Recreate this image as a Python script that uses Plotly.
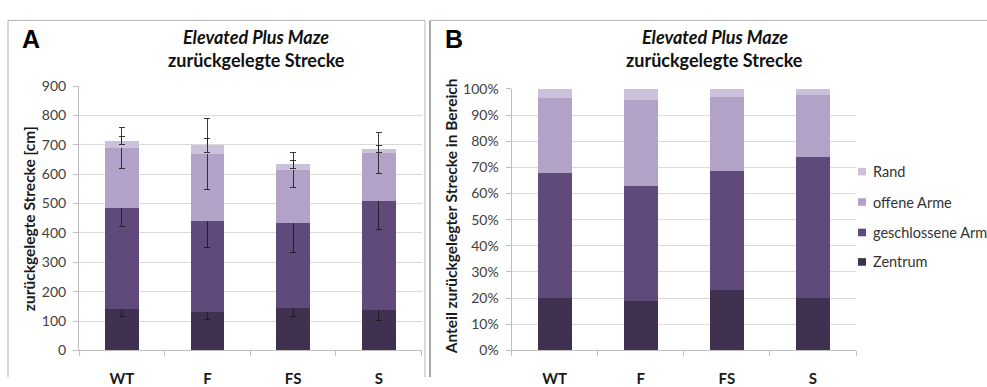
import plotly.graph_objects as go

# Distance travelled per maze region (cm), mean values per group
groups = ["WT", "F", "FS", "S"]
series_names = ["Zentrum", "geschlossene Arme", "offene Arme", "Rand"]
zentrum = [142, 131, 145, 138]
geschlossen = [342, 308, 290, 369]
offen = [206, 229, 179, 164]
rand = [24, 30, 19, 15]

# Standard deviations per region
err_zentrum = [27, 27, 30, 35]
err_geschlossen = [63, 89, 103, 95]
err_offen = [70, 120, 60, 70]
err_rand = [14, 23, 14, 13]

y_ticks_cm = [0, 100, 200, 300, 400, 500, 600, 700, 800, 900]
y_ticks_pct = [0, 10, 20, 30, 40, 50, 60, 70, 80, 90, 100]

colors = ["#403151", "#604A7B", "#B3A2C7", "#CCC1DA"]

W, H = 987, 387
FONT = "Lato, 'Open Sans', sans-serif"


def px(x):
    return x / W


def py(y):
    return 1 - y / H


values = [zentrum, geschlossen, offen, rand]
errors = [err_zentrum, err_geschlossen, err_offen, err_rand]
totals = [sum(v[i] for v in values) for i in range(len(groups))]
shares = [[v[i] / totals[i] * 100 for i in range(len(groups))] for v in values]

fig = go.Figure()

# Panel A: absolute distances with error bars
for name, vals, err, col in zip(series_names, values, errors, colors):
    fig.add_trace(go.Bar(
        x=groups, y=vals, name=name, marker=dict(color=col, line=dict(width=0)),
        error_y=dict(type="data", array=err, visible=True, color="rgba(25,25,25,0.85)",
                     thickness=1, width=3),
        xaxis="x", yaxis="y", showlegend=False,
    ))

# Panel B: share of distance per region
for name, vals, col in zip(series_names, shares, colors):
    fig.add_trace(go.Bar(
        x=groups, y=vals, name=name, marker=dict(color=col, line=dict(width=0)),
        xaxis="x2", yaxis="y2", showlegend=False,
    ))

axis_gray = "#bfbfbf"
grid_gray = "#d9d9d9"
tick_font = dict(family=FONT, size=14, color="#404040")
cat_font = dict(family=FONT, size=15, color="#1a1a1a", weight="bold")

xcommon = dict(type="category", tickson="boundaries", ticks="outside", ticklen=5,
               tickcolor=axis_gray, showline=True, linecolor=axis_gray, linewidth=1,
               showgrid=False, zeroline=False, tickfont=cat_font, ticklabelstandoff=15,
               fixedrange=True)
ycommon = dict(ticks="outside", ticklen=5, tickcolor=axis_gray, showline=True,
               linecolor=axis_gray, linewidth=1, showgrid=True, gridcolor=grid_gray,
               gridwidth=1, zeroline=False, tickfont=tick_font, ticklabelstandoff=4,
               fixedrange=True)

fig.update_layout(
    width=W, height=H,
    margin=dict(l=0, r=0, t=0, b=0),
    paper_bgcolor="white", plot_bgcolor="white",
    barmode="stack", bargap=0.605,
    font=dict(family=FONT, color="#1a1a1a"),
    xaxis=dict(domain=[px(79), px(421.6)], anchor="y", **xcommon),
    yaxis=dict(domain=[py(359), py(81)], anchor="x", range=[0, 900],
               tickvals=y_ticks_cm, **ycommon),
    xaxis2=dict(domain=[px(511.5), px(856)], anchor="y2", **xcommon),
    yaxis2=dict(domain=[py(359), py(84)], anchor="x2", range=[0, 100],
                tickvals=y_ticks_pct, ticktext=[f"{t}%" for t in y_ticks_pct], **ycommon),
    showlegend=False,
)

annotations = []
shapes = []

# Panel titles and letters
title_font = dict(family=FONT, size=18, color="#111111")
for cx in (256, 714.5):
    annotations.append(dict(x=px(cx), y=py(29), xref="paper", yref="paper",
                            text="<b><i>Elevated Plus Maze</i></b>", showarrow=False,
                            font=title_font, xanchor="center", yanchor="middle"))
    annotations.append(dict(x=px(cx), y=py(54), xref="paper", yref="paper",
                            text="<b>zurückgelegte Strecke</b>", showarrow=False,
                            font=title_font, xanchor="center", yanchor="middle"))
letter_font = dict(family="Liberation Sans, Arial, sans-serif", size=25, color="#000000")
for lx, letter in ((31, "A"), (453.5, "B")):
    annotations.append(dict(x=px(lx), y=py(32), xref="paper", yref="paper",
                            text=f"<b>{letter}</b>", showarrow=False,
                            xanchor="center", yanchor="middle", font=letter_font))

# Axis titles
axis_title_font = dict(family=FONT, size=15.5, color="#1a1a1a")
annotations.append(dict(x=px(29), y=py(221), xref="paper", yref="paper",
                        text="<b>zurückgelegte Strecke [cm]</b>", textangle=-90,
                        showarrow=False, xanchor="center", yanchor="middle",
                        font=axis_title_font))
annotations.append(dict(x=px(451), y=py(218), xref="paper", yref="paper",
                        text="<b>Anteil zurückgelegter Strecke in Bereich</b>", textangle=-90,
                        showarrow=False, xanchor="center", yanchor="middle",
                        font=axis_title_font))

# Legend for panel B (top entry = top segment)
legend_y = [171, 203, 235, 266]
for name, col, ly in zip(reversed(series_names), reversed(colors), legend_y):
    shapes.append(dict(type="rect", xref="paper", yref="paper",
                       x0=px(858), x1=px(866), y0=py(ly - 4), y1=py(ly + 4),
                       fillcolor=col, line=dict(width=0)))
    annotations.append(dict(x=px(871), y=py(ly), xref="paper", yref="paper", text=name,
                            showarrow=False, xanchor="left", yanchor="middle",
                            font=dict(family=FONT, size=14.5, color="#333333")))

# Panel frames
frame = dict(color="#b3b3b3", width=1)
shapes += [
    dict(type="line", xref="paper", yref="paper", x0=px(8), x1=px(8), y0=py(12), y1=0, line=frame),
    dict(type="line", xref="paper", yref="paper", x0=px(8), x1=px(425), y0=py(12), y1=py(12), line=frame),
    dict(type="line", xref="paper", yref="paper", x0=px(425), x1=px(425), y0=py(12), y1=0, line=frame),
    dict(type="line", xref="paper", yref="paper", x0=px(430), x1=px(430), y0=py(12), y1=0,
         line=dict(color="#8c8c8c", width=1.5)),
    dict(type="line", xref="paper", yref="paper", x0=px(430), x1=1, y0=py(12), y1=py(12), line=frame),
]

fig.update_layout(annotations=annotations, shapes=shapes)

fig.write_html("out.html")
